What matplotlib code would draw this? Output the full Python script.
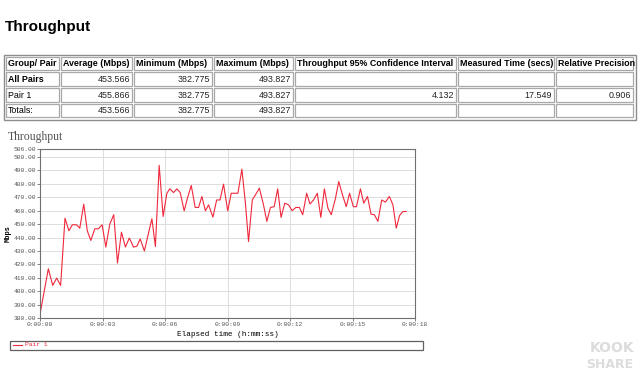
import numpy as np
import matplotlib
matplotlib.use('Agg')
import matplotlib.pyplot as plt
from matplotlib.patches import Rectangle

# table data
columns = ['Group/ Pair', 'Average (Mbps)', 'Minimum (Mbps)', 'Maximum (Mbps)',
           'Throughput 95% Confidence Interval', 'Measured Time (secs)', 'Relative Precision']
row_all = ['All Pairs', '453.566', '382.775', '493.827', '', '', '']
row_pair1 = ['Pair 1', '455.866', '382.775', '493.827', '4.132', '17.549', '0.906']
row_totals = ['Totals:', '453.566', '382.775', '493.827', '', '', '']

# throughput samples (seconds, Mbps)
times = [0.00, 0.40, 0.61, 0.80, 0.99, 1.20, 1.39, 1.55, 1.75, 1.91,
         2.10, 2.27, 2.44, 2.63, 2.80, 2.98, 3.16, 3.35, 3.54, 3.72,
         3.91, 4.10, 4.29, 4.49, 4.65, 4.81, 5.01, 5.19, 5.37, 5.54,
         5.72, 5.91, 6.09, 6.23, 6.41, 6.57, 6.73, 6.92, 7.09, 7.26,
         7.45, 7.61, 7.77, 7.94, 8.09, 8.30, 8.48, 8.64, 8.81, 9.01,
         9.18, 9.38, 9.50, 9.69, 9.86, 10.01, 10.19, 10.36, 10.53, 10.72,
         10.89, 11.06, 11.24, 11.41, 11.57, 11.75, 11.93, 12.10, 12.28, 12.45,
         12.61, 12.80, 12.96, 13.13, 13.31, 13.48, 13.65, 13.82, 13.98, 14.18,
         14.34, 14.52, 14.70, 14.86, 15.04, 15.19, 15.38, 15.54, 15.72, 15.89,
         16.05, 16.22, 16.40, 16.58, 16.77, 16.94, 17.10, 17.26, 17.42, 17.58]
mbps = [382.8, 416.7, 404.3, 409.8, 404.3, 454.4, 445.0, 449.5, 449.5, 447.0,
        464.9, 445.0, 437.8, 446.5, 446.5, 449.5, 432.9, 450.0, 457.0, 421.0,
        444.0, 432.9, 439.6, 432.9, 433.5, 439.0, 430.0, 442.0, 454.0, 433.3,
        493.8, 455.7, 473.0, 476.3, 473.5, 476.3, 473.5, 459.9, 470.0, 478.8,
        462.4, 462.4, 470.6, 459.9, 464.4, 455.2, 468.0, 468.0, 479.8, 459.9,
        473.0, 473.0, 473.0, 491.0, 465.6, 437.0, 468.0, 472.3, 476.8, 464.9,
        452.0, 462.4, 463.0, 476.3, 455.0, 465.6, 464.4, 460.0, 462.4, 462.4,
        457.0, 473.0, 465.0, 468.0, 473.0, 455.0, 476.3, 461.9, 457.0, 469.0,
        481.7, 471.8, 463.0, 473.0, 463.0, 463.0, 476.3, 465.6, 470.6, 457.4,
        457.0, 452.0, 468.0, 466.4, 470.6, 464.4, 447.0, 456.4, 459.4, 459.4]

yticks = [380, 390, 400, 410, 420, 430, 440, 450, 460, 470, 480, 490, 500, 506]
xticks = [0, 3, 6, 9, 12, 15, 18]
xticklabels = ['0:00:00', '0:00:03', '0:00:06', '0:00:09', '0:00:12', '0:00:15', '0:00:18']

fig = plt.figure(figsize=(6.4, 3.8), dpi=100)
fig.patch.set_facecolor('white')

# overlay in pixel coordinates for the html-ish part
ov = fig.add_axes([0, 0, 1, 1])
ov.set_xlim(0, 640)
ov.set_ylim(380, 0)
ov.axis('off')

ov.text(5, 27, 'Throughput', fontsize=11, fontweight='bold', family='Liberation Sans',
        va='center', ha='left', color='black')

col_x = [5, 60, 133, 213, 294, 457, 555, 634]
row_y = [56, 71, 87, 103, 118]
ov.add_patch(Rectangle((3.5, 54.5), 632, 65, fill=False, edgecolor='#8c8c8c', lw=1))
rows = [columns, row_all, row_pair1, row_totals]
for r, row in enumerate(rows):
    for c, txt in enumerate(row):
        x0, x1 = col_x[c] + 1, col_x[c + 1] - 1
        y0, y1 = row_y[r] + 1, row_y[r + 1] - 1
        ov.add_patch(Rectangle((x0, y0), x1 - x0, y1 - y0, fill=False,
                               edgecolor='#a8a8a8', lw=0.9))
        if txt == '':
            continue
        bold = (r == 0) or (r == 1 and c == 0)
        ym = (y0 + y1) / 2
        if r == 0 or c == 0:
            ov.text(x0 + 2, ym, txt, fontsize=6.4, family='Liberation Sans',
                    fontweight='bold' if bold else 'normal', va='center', ha='left')
        else:
            ov.text(x1 - 2, ym, txt, fontsize=6.4, family='Liberation Sans',
                    va='center', ha='right', color='#222222')

# chart
ov.text(8, 137, 'Throughput', fontsize=8.5, family='Liberation Serif', color='#555555',
        va='center', ha='left')

ax = fig.add_axes([40 / 640, 1 - 318 / 380, 375 / 640, 169 / 380])
ax.plot(times, mbps, color='#f0283c', lw=0.8)
ax.set_xlim(0, 18)
ax.set_ylim(380, 506)
ax.set_yticks(yticks)
ax.set_yticklabels(['%.2f' % v for v in yticks])
ax.set_xticks(xticks)
ax.set_xticklabels(xticklabels)
ax.tick_params(labelsize=4.5, length=2, width=0.5, colors='#555555', pad=1)
for lab in ax.get_xticklabels() + ax.get_yticklabels():
    lab.set_family('Liberation Mono')
ax.grid(True, color='#d8d8d8', lw=0.6)
ax.set_axisbelow(True)
for s in ax.spines.values():
    s.set_color('#707070')
    s.set_linewidth(0.8)
ax.set_ylabel('Mbps', fontsize=5, family='Liberation Mono', labelpad=1, fontweight='bold')
ax.set_xlabel('Elapsed time (h:mm:ss)', fontsize=5.5, family='Liberation Mono', labelpad=3)

# legend box
ov.add_patch(Rectangle((10, 340.5), 413, 9, fill=False, edgecolor='#606060', lw=0.9))
ov.plot([13, 22], [345, 345], color='#f0283c', lw=0.8)
ov.text(25, 345, 'Pair 1', fontsize=4.5, family='Liberation Mono', color='#f0283c',
        va='center', ha='left')

# watermark
ov.text(612, 348, 'KOOK', fontsize=10, fontweight='bold', color='#dcdcdc',
        ha='center', va='center', family='DejaVu Sans')
ov.text(610, 365, 'SHARE', fontsize=9, fontweight='bold', color='#dcdcdc',
        ha='center', va='center', family='DejaVu Sans')

fig.savefig('out.png', dpi=100, facecolor='white')
